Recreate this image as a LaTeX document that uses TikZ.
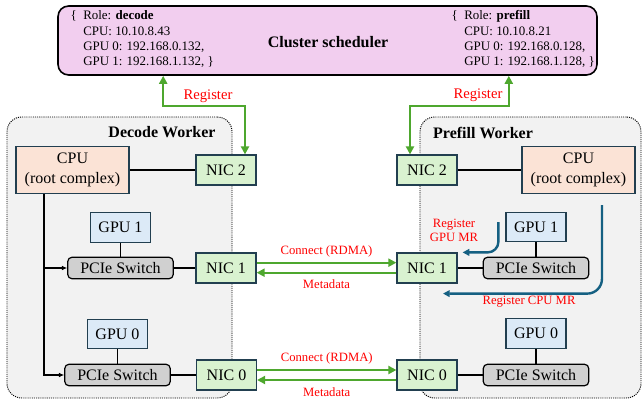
\documentclass[tikz,border=0pt]{standalone}
\usepackage{fontspec}
\setmainfont{Liberation Serif}
\usetikzlibrary{arrows.meta,positioning}

\definecolor{edgeblue}{HTML}{223F50}
\definecolor{cpufill}{HTML}{FBE3D6}
\definecolor{nicfill}{HTML}{D9F2D0}
\definecolor{gpufill}{HTML}{DCEAF7}
\definecolor{pciefill}{HTML}{D0D0D0}
\definecolor{workerfill}{HTML}{F2F2F2}
\definecolor{schedfill}{HTML}{F2CEEF}
\definecolor{arrowgreen}{HTML}{4EA72E}
\definecolor{mrblue}{HTML}{156082}

\begin{document}
\begin{tikzpicture}[
				x=0.75pt, y=-0.75pt,
				box/.style={rectangle, draw=edgeblue, line width=0.9pt, inner sep=0pt, font=\fontsize{12}{14.5}\selectfont},
				cpu/.style={box, fill=cpufill, minimum width=84.75pt, minimum height=35.25pt, align=center},
				nic/.style={box, fill=nicfill, minimum width=45pt, minimum height=22.5pt},
				gpu/.style={box, fill=gpufill, minimum width=45pt, minimum height=22pt},
				pcie/.style={box, draw=black, fill=pciefill, rounded corners=3pt, minimum width=79pt, minimum height=16pt},
				worker/.style={rectangle, draw, fill=workerfill, dash pattern=on 0.8pt off 0.8pt, line width=0.7pt, rounded corners=11pt, inner sep=0pt},
				wtitle/.style={font=\fontsize{12}{14}\selectfont\bfseries},
				wire/.style={draw, line width=0.9pt},
				greenarrow/.style={draw=arrowgreen, line width=1.5pt, -{Triangle[length=6pt,width=6pt]}},
				mrarrow/.style={draw=mrblue, line width=1.8pt, -{Triangle[length=5pt,width=5pt]}},
				lbl/.style={text=red, inner sep=0pt, font=\fontsize{9.5}{10.5}\selectfont, align=center},
				reglbl/.style={lbl, font=\fontsize{11}{12}\selectfont},
				info/.style={inner sep=0pt, align=left, font=\fontsize{9.7}{11.5}\selectfont}
				]
				\useasboundingbox (0,0) rectangle (642,403);
				
				% Cluster scheduler
				\node[rectangle, draw, line width=1.2pt, fill=schedfill, rounded corners=8pt, minimum width=404.25pt, minimum height=51.75pt] (sched) at (327.5,40.5) {};
				\node[font=\fontsize{12}{14}\selectfont\bfseries] (schedname) at (328,42) {Cluster scheduler};
				\node[info, anchor=north west] (decinfo) at (83,10.5) {\llap{\{\ \ }Role: \textbf{decode}\\CPU: 10.10.8.43\\GPU 0: 192.168.0.132,\\GPU 1: 192.168.1.132, \}};
				\node[info, anchor=north west] (preinfo) at (464,10.5) {\llap{\{\ \ }Role: \textbf{prefill}\\CPU: 10.10.8.21\\GPU 0: 192.168.0.128,\\GPU 1: 192.168.1.128, \}};
				
				% Workers
				\node[worker, minimum width=168.75pt, minimum height=210.75pt] (decW) at (119.5,257.5) {};
				\node[wtitle] (decWname) at (162,132) {Decode Worker};
				\node[worker, minimum width=165.75pt, minimum height=210.75pt] (preW) at (530.5,257.5) {};
				\node[wtitle] (preWname) at (483,133) {Prefill Worker};
				
				% Decode side
				\node[cpu] (cpuL) at (72.5,170) {CPU\\(root complex)};
				\node[nic] (nic2L) at (226,170) {NIC 2};
				\node[gpu] (gpu1L) at (120.5,227.5) {GPU 1};
				\node[pcie] (pcie1L) at (120.5,268) {PCIe Switch};
				\node[nic] (nic1L) at (226,268) {NIC 1};
				\node[gpu] (gpu0L) at (117.5,334) {GPU 0};
				\node[pcie] (pcie0L) at (117.5,375) {PCIe Switch};
				\node[nic] (nic0L) at (226.5,375) {NIC 0};
				
				% Prefill side
				\node[nic] (nic2R) at (427,170) {NIC 2};
				\node[cpu] (cpuR) at (578.5,170) {CPU\\(root complex)};
				\node[gpu] (gpu1R) at (536,227) {GPU 1};
				\node[pcie] (pcie1R) at (536,268) {PCIe Switch};
				\node[nic] (nic1R) at (427,268) {NIC 1};
				\node[gpu] (gpu0R) at (536,333.5) {GPU 0};
				\node[pcie] (pcie0R) at (536,375) {PCIe Switch};
				\node[nic] (nic0R) at (427,375) {NIC 0};
				
				% Wires
				\draw[wire] (cpuL) -- (nic2L);
				\draw[wire] (gpu1L) -- (pcie1L);
				\draw[wire] (pcie1L) -- (nic1L);
				\draw[wire] (gpu0L) -- (pcie0L);
				\draw[wire] (pcie0L) -- (nic0L);
				\draw[wire, -{Latex[length=4pt,width=3.5pt]}] ([xshift=-21.4pt]cpuL.south) |- (pcie1L.west);
				\draw[wire, -{Latex[length=4pt,width=3.5pt]}] ([xshift=-21.4pt]cpuL.south) |- (pcie0L.west);
				\draw[wire] (nic2R) -- (cpuR);
				\draw[wire] (gpu1R) -- (pcie1R);
				\draw[wire] (nic1R) -- (pcie1R);
				\draw[wire] (gpu0R) -- (pcie0R);
				\draw[wire] (nic0R) -- (pcie0R);
				
				% Register with the scheduler
				\draw[greenarrow, {Triangle[length=6pt,width=6pt]}-{Triangle[length=6pt,width=6pt]}] ([xshift=79.5pt]sched.south west) -- ++(0,30) -| ([xshift=14.25pt]nic2L.north);
				\node[reglbl] (regL) at (208,96) {Register};
				\draw[greenarrow, {Triangle[length=6pt,width=6pt]}-{Triangle[length=6pt,width=6pt]}] ([xshift=-66.75pt]sched.south east) -- ++(0,30) -| ([xshift=-12.75pt]nic2R.north);
				\node[reglbl] (regR) at (478,95) {Register};
				
				% RDMA between NICs
				\draw[greenarrow] ([yshift=4pt]nic1L.east) -- ([yshift=4pt]nic1R.west) node[lbl, midway, yshift=8.25pt] {Connect (RDMA)};
				\draw[greenarrow] ([yshift=-3.5pt]nic1R.west) -- ([yshift=-3.5pt]nic1L.east) node[lbl, midway, yshift=-8.25pt] {Metadata};
				\draw[greenarrow] ([yshift=3.75pt]nic0L.east) -- ([yshift=3.75pt]nic0R.west) node[lbl, midway, yshift=9pt] {Connect (RDMA)};
				\draw[greenarrow] ([yshift=-3.75pt]nic0R.west) -- ([yshift=-3.75pt]nic0L.east) node[lbl, midway, yshift=-9pt] {Metadata};
				
				% Memory registration
				\draw[mrarrow, rounded corners=8pt] ([xshift=-5.25pt,yshift=3.75pt]gpu1R.west) |- ([xshift=3.75pt]nic1R.north east);
				\node[lbl] (gpumr) at (454,230) {Register\\GPU MR};
				\draw[mrarrow, rounded corners=11pt] ([xshift=17.6pt,yshift=-8.25pt]cpuR.south) |- ([xshift=12pt,yshift=-7.5pt]nic1R.south);
				\node[lbl] (cpumr) at (529,302) {Register CPU MR};
			\end{tikzpicture}
\end{document}
